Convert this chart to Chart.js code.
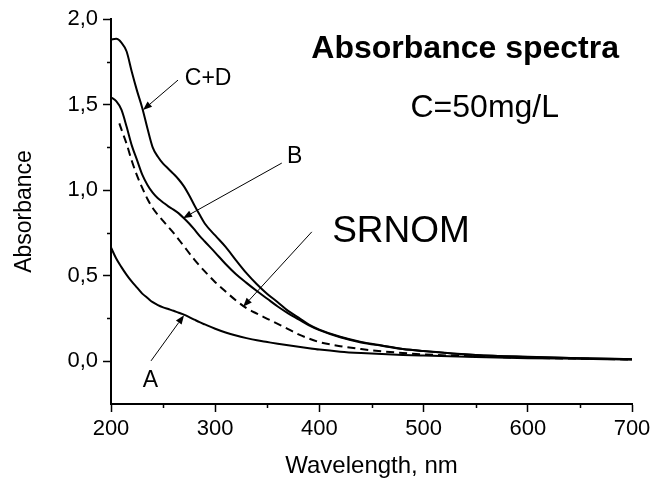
<!DOCTYPE html>
<html>
<head>
<meta charset="utf-8">
<script src="https://cdn.jsdelivr.net/npm/chart.js@4.4.1/dist/chart.umd.min.js"></script>
<style>
  html, body { margin: 0; padding: 0; background: #fff; }
</style>
</head>
<body>
<canvas id="spectra" width="655" height="481"></canvas>
<script>
// wavelength grid, nm
const wavelengths = [200, 205, 210, 215, 220, 225, 230, 235, 240, 245, 250, 255, 260, 265, 270, 275, 280, 285, 290,
  300, 310, 320, 330, 340, 350, 360, 370, 380, 390, 400, 420, 440, 460, 480, 500, 550, 600, 650, 700];

const absA = [0.665, 0.60, 0.55, 0.505, 0.465, 0.43, 0.395, 0.37, 0.345, 0.328,
  0.315, 0.305, 0.295, 0.283, 0.272, 0.258, 0.243, 0.228, 0.215, 0.19,
  0.168, 0.15, 0.135, 0.122, 0.112, 0.102, 0.093, 0.085, 0.076, 0.068,
  0.056, 0.048, 0.042, 0.037, 0.033, 0.024, 0.018, 0.014, 0.01];

const absB = [1.542, 1.52, 1.47, 1.37, 1.26, 1.175, 1.09, 1.03, 0.985, 0.952,
  0.928, 0.905, 0.886, 0.864, 0.836, 0.805, 0.77, 0.733, 0.70, 0.635,
  0.568, 0.508, 0.458, 0.41, 0.365, 0.32, 0.28, 0.245, 0.21, 0.182,
  0.14, 0.11, 0.09, 0.071, 0.059, 0.036, 0.025, 0.017, 0.012];

const absCD = [1.88, 1.884, 1.862, 1.81, 1.69, 1.58, 1.48, 1.36, 1.25, 1.195,
  1.155, 1.125, 1.095, 1.062, 1.022, 0.97, 0.912, 0.857, 0.805, 0.735,
  0.668, 0.59, 0.515, 0.45, 0.393, 0.345, 0.294, 0.255, 0.214, 0.185,
  0.143, 0.113, 0.092, 0.072, 0.06, 0.037, 0.026, 0.018, 0.012];

// SRNOM was measured from 208 nm
const srnomWavelengths = [208, 210, 215, 220, 225, 230, 235, 240, 245, 250, 255, 260, 270, 280, 290, 300, 310, 320, 330, 340,
  350, 360, 370, 380, 390, 400, 420, 440, 460, 480, 500, 550, 600, 650, 700];
const absSRNOM = [1.39, 1.355, 1.27, 1.17, 1.085, 1.013, 0.948, 0.895, 0.855, 0.82,
  0.785, 0.75, 0.672, 0.594, 0.525, 0.462, 0.407, 0.355, 0.31, 0.278,
  0.248, 0.218, 0.188, 0.157, 0.132, 0.112, 0.088, 0.071, 0.058, 0.048,
  0.04, 0.028, 0.02, 0.015, 0.01];

const xTicks = [200, 300, 400, 500, 600, 700];
const xMinor = [250, 350, 450, 550, 650];
const yTicks = [0, 0.5, 1, 1.5, 2];
const yMinor = [0.25, 0.75, 1.25, 1.75];

// arrows in data units: [nm, absorbance]
const arrows = [
  {from: [264.3, 1.643], to: [230.7, 1.468]},   // C+D
  {from: [363.9, 1.158], to: [269.1, 0.836]},   // B
  {from: [392.7, 0.756], to: [326.8, 0.318]},   // SRNOM
  {from: [238.4, 0.002], to: [270.1, 0.269]}    // A
];

// text labels, anchored at the baseline centre
const notes = [
  {text: 'C+D', at: [293.2, 1.614], font: '23px'},
  {text: 'B', at: [376.2, 1.158], font: '23px'},
  {text: 'SRNOM', at: [478.3, 0.698], font: '37px'},
  {text: 'A', at: [237.9, -0.152], font: '23px'},
  {text: 'Absorbance spectra', at: [539.9, 1.770], font: 'bold 32px'},
  {text: 'C=50mg/L', at: [558.7, 1.429], font: '32px'}
];

const FAMILY = '"Liberation Sans", Arial, Helvetica, sans-serif';
Chart.defaults.font.family = FAMILY;
Chart.defaults.color = '#000';

const toPoints = (xs, ys) => xs.map((x, i) => ({x: x, y: ys[i]}));

const annotate = {
  id: 'annotate',
  afterDraw(chart) {
    const {ctx, chartArea, scales: {x, y}} = chart;
    ctx.save();
    ctx.strokeStyle = '#000';
    ctx.fillStyle = '#000';

    // minor ticks on both axes
    ctx.lineWidth = 1.5;
    ctx.beginPath();
    xMinor.forEach(v => {
      const px = Math.round(x.getPixelForValue(v)) + 0.5;
      ctx.moveTo(px, chartArea.bottom);
      ctx.lineTo(px, chartArea.bottom + 4);
    });
    yMinor.forEach(v => {
      const py = Math.round(y.getPixelForValue(v)) + 0.5;
      ctx.moveTo(chartArea.left, py);
      ctx.lineTo(chartArea.left - 4, py);
    });
    ctx.stroke();

    // arrows with filled heads
    ctx.lineWidth = 1;
    arrows.forEach(a => {
      const x0 = x.getPixelForValue(a.from[0]), y0 = y.getPixelForValue(a.from[1]);
      const x1 = x.getPixelForValue(a.to[0]), y1 = y.getPixelForValue(a.to[1]);
      const ang = Math.atan2(y1 - y0, x1 - x0);
      const len = 9, half = 3.5;
      ctx.beginPath();
      ctx.moveTo(x0, y0);
      ctx.lineTo(x1 - Math.cos(ang) * len, y1 - Math.sin(ang) * len);
      ctx.stroke();
      ctx.beginPath();
      ctx.moveTo(x1, y1);
      ctx.lineTo(x1 - Math.cos(ang) * len - Math.sin(ang) * half, y1 - Math.sin(ang) * len + Math.cos(ang) * half);
      ctx.lineTo(x1 - Math.cos(ang) * len + Math.sin(ang) * half, y1 - Math.sin(ang) * len - Math.cos(ang) * half);
      ctx.closePath();
      ctx.fill();
    });

    ctx.textAlign = 'center';
    ctx.textBaseline = 'alphabetic';
    notes.forEach(n => {
      ctx.font = n.font + ' ' + FAMILY;
      ctx.fillText(n.text, x.getPixelForValue(n.at[0]), y.getPixelForValue(n.at[1]));
    });
    ctx.restore();
  }
};

const line = (pts, dash) => ({
  data: pts,
  borderColor: '#000',
  borderWidth: 2,
  borderDash: dash || [],
  pointRadius: 0,
  fill: false,
  cubicInterpolationMode: 'monotone'
});

new Chart(document.getElementById('spectra'), {
  type: 'line',
  data: {
    datasets: [
      line(toPoints(wavelengths, absCD)),
      line(toPoints(wavelengths, absB)),
      line(toPoints(srnomWavelengths, absSRNOM), [8, 5]),
      line(toPoints(wavelengths, absA))
    ]
  },
  options: {
    responsive: false,
    animation: false,
    layout: {padding: {top: 19, right: 23, left: 0, bottom: 0}},
    plugins: {legend: {display: false}, tooltip: {enabled: false}},
    scales: {
      x: {
        type: 'linear',
        min: 200,
        max: 700,
        afterBuildTicks: s => { s.ticks = xTicks.map(v => ({value: v})); },
        afterFit: s => { s.height = 77; },
        ticks: {font: {size: 22}, padding: 4},
        grid: {drawOnChartArea: false, tickLength: 8, tickWidth: 1.5, tickColor: '#000'},
        border: {color: '#000', width: 2},
        title: {display: true, text: 'Wavelength, nm', font: {size: 24}, padding: {top: 0, bottom: 0}}
      },
      y: {
        min: -0.25,
        max: 2.0,
        afterBuildTicks: s => { s.ticks = yTicks.map(v => ({value: v})); },
        afterFit: s => { s.width = 111; },
        ticks: {
          font: {size: 22},
          padding: 5,
          callback: v => v.toFixed(1).replace('.', ',')
        },
        grid: {drawOnChartArea: false, tickLength: 8, tickWidth: 1.5, tickColor: '#000'},
        border: {color: '#000', width: 2},
        title: {display: true, text: 'Absorbance', font: {size: 23}, padding: {top: 11, bottom: 0}}
      }
    }
  },
  plugins: [annotate]
});
</script>
</body>
</html>
